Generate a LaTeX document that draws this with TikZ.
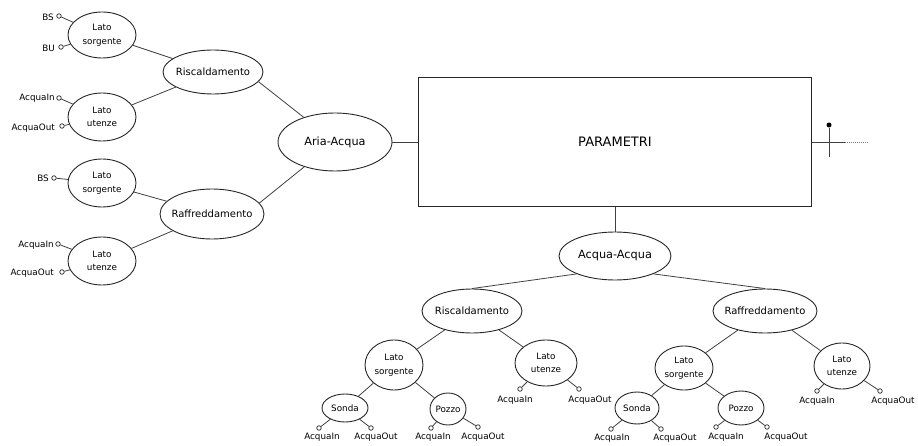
\documentclass[tikz,border=0pt]{standalone}
\usepackage{fontspec}
\setmainfont{DejaVu Sans}
\usetikzlibrary{shapes.geometric,positioning}

\begin{document}
\begin{tikzpicture}[
    x=1pt, y=-1pt,
    ell/.style={ellipse, draw=black!85, line width=0.9pt, inner xsep=-4pt, inner ysep=0pt, align=center},
    lato/.style={ell, font=\fontsize{8.8}{13.5}\selectfont},
    modo/.style={ell, font=\fontsize{10}{13}\selectfont},
    tipo/.style={ell, font=\fontsize{11.3}{14}\selectfont},
    pinc/.style={circle, draw=black!85, line width=0.7pt, inner sep=0pt, minimum size=4.5pt, fill=white},
    lbl/.style={inner sep=1pt, font=\fontsize{8.8}{11}\selectfont},
    link/.style={draw=black!75, line width=0.8pt}
]
    \useasboundingbox (0,0) rectangle (918,446);

    % Aria-Acqua
    \node[lato, minimum width=68pt, minimum height=46pt] (ls1) at (102,35) {Lato\\sorgente};
    \node[lato, minimum width=68pt, minimum height=48pt] (lu1) at (102,117) {Lato\\utenze};
    \node[modo, minimum width=100pt, minimum height=44pt] (risc1) at (213,72) {Riscaldamento};
    \node[lato, minimum width=68pt, minimum height=48pt] (ls2) at (102,183) {Lato\\sorgente};
    \node[lato, minimum width=68pt, minimum height=48pt] (lu2) at (102,261) {Lato\\utenze};
    \node[modo, minimum width=104pt, minimum height=50pt] (raff1) at (212,214) {Raffreddamento};
    \node[tipo, minimum width=114pt, minimum height=58pt] (aria) at (335,142) {Aria-Acqua};

    % Ingressi / uscite a sinistra
    \node[pinc] (bs1) at (59,16) {};
    \node[lbl, anchor=east] (bs1t) at (55,17) {BS};
    \node[pinc] (bu1) at (61,47) {};
    \node[lbl, anchor=east] (bu1t) at (56,48) {BU};
    \node[pinc] (in1) at (59,98) {};
    \node[lbl, anchor=east] (in1t) at (56,98) {AcquaIn};
    \node[pinc] (out1) at (62,126) {};
    \node[lbl, anchor=east] (out1t) at (56,128) {AcquaOut};
    \node[pinc] (bs2) at (54,178) {};
    \node[lbl, anchor=east] (bs2t) at (50,178) {BS};
    \node[pinc] (in2) at (58,244) {};
    \node[lbl, anchor=east] (in2t) at (55,245) {AcquaIn};
    \node[pinc] (out2) at (62,272) {};
    \node[lbl, anchor=east] (out2t) at (55,273) {AcquaOut};

    % Parametri e Acqua-Acqua
    \node[draw=black!85, line width=1pt, minimum width=393pt, minimum height=129pt, font=\fontsize{13}{15}\selectfont] (param) at (615,142) {PARAMETRI};
    \node[tipo, minimum width=112pt, minimum height=48pt] (aa) at (615,256) {Acqua-Acqua};
    \node[modo, minimum width=100pt, minimum height=44pt] (risc2) at (472,311) {Riscaldamento};
    \node[modo, minimum width=104pt, minimum height=44pt] (raff2) at (765,311) {Raffreddamento};
    \node[lato, minimum width=58pt, minimum height=50pt] (ls3) at (394,365) {Lato\\sorgente};
    \node[lato, minimum width=62pt, minimum height=46pt] (lu3) at (546,363) {Lato\\utenze};
    \node[lato, minimum width=58pt, minimum height=44pt] (ls4) at (684,368) {Lato\\sorgente};
    \node[lato, minimum width=56pt, minimum height=46pt] (lu4) at (842,366) {Lato\\utenze};
    \node[lato, minimum width=46pt, minimum height=28pt] (sonda1) at (345,408) {Sonda};
    \node[lato, minimum width=36pt, minimum height=32pt] (pozzo1) at (448,409) {Pozzo};
    \node[lato, minimum width=44pt, minimum height=32pt] (sonda2) at (637,408) {Sonda};
    \node[lato, minimum width=46pt, minimum height=34pt] (pozzo2) at (741,408) {Pozzo};

    % Ingressi / uscite in basso
    \node[pinc] (in3) at (319,428) {};
    \node[lbl] (in3t) at (322,437) {AcquaIn};
    \node[pinc] (out3) at (371,428) {};
    \node[lbl] (out3t) at (376,437) {AcquaOut};
    \node[pinc] (in4) at (431,428) {};
    \node[lbl] (in4t) at (433,437) {AcquaIn};
    \node[pinc] (out4) at (478,427) {};
    \node[lbl] (out4t) at (483,437) {AcquaOut};
    \node[pinc] (in5) at (520,389) {};
    \node[lbl] (in5t) at (515,400) {AcquaIn};
    \node[pinc] (out5) at (579,389) {};
    \node[lbl] (out5t) at (590,400) {AcquaOut};
    \node[pinc] (in6) at (611,429) {};
    \node[lbl] (in6t) at (612,438) {AcquaIn};
    \node[pinc] (out6) at (661,429) {};
    \node[lbl] (out6t) at (675,438) {AcquaOut};
    \node[pinc] (in7) at (716,427) {};
    \node[lbl] (in7t) at (726,437) {AcquaIn};
    \node[pinc] (out7) at (767,427) {};
    \node[lbl] (out7t) at (786,437) {AcquaOut};
    \node[pinc] (in8) at (817,391) {};
    \node[lbl] (in8t) at (817,401) {AcquaIn};
    \node[pinc] (out8) at (880,391) {};
    \node[lbl] (out8t) at (893,401) {AcquaOut};

    % Uscita a destra
    \coordinate (solidend) at (845,142);
    \coordinate (dotend) at (868,142);
    \node[circle, fill=black, inner sep=0pt, minimum size=5pt] (dot) at (829,125) {};
    \coordinate (tickend) at (829,157);

    % Collegamenti
    \draw[link] (ls1) -- (risc1);
    \draw[link] (lu1) -- (risc1);
    \draw[link] (ls2) -- (raff1);
    \draw[link] (lu2) -- (raff1);
    \draw[link] (risc1.-12) -- (aria);
    \draw[link] (raff1.13) -- (aria);
    \draw[link] (aria) -- (param);
    \draw[link] (param) -- (aa);
    \draw[link] (aa.205) -- (risc2.north);
    \draw[link] (aa.335) -- (raff2.north);
    \draw[link] (risc2) -- (ls3);
    \draw[link] (risc2) -- (lu3);
    \draw[link] (raff2) -- (ls4);
    \draw[link] (raff2) -- (lu4);
    \draw[link] (ls3) -- (sonda1);
    \draw[link] (ls3) -- (pozzo1);
    \draw[link] (ls4) -- (sonda2);
    \draw[link] (ls4) -- (pozzo2);

    \draw[link] (bs1) -- (ls1);
    \draw[link] (bu1) -- (ls1);
    \draw[link] (in1) -- (lu1);
    \draw[link] (out1) -- (lu1);
    \draw[link] (bs2) -- (ls2);
    \draw[link] (in2) -- (lu2);
    \draw[link] (out2) -- (lu2);
    \draw[link] (in3) -- (sonda1);
    \draw[link] (out3) -- (sonda1);
    \draw[link] (in4) -- (pozzo1);
    \draw[link] (out4) -- (pozzo1);
    \draw[link] (in5) -- (lu3);
    \draw[link] (out5) -- (lu3);
    \draw[link] (in6) -- (sonda2);
    \draw[link] (out6) -- (sonda2);
    \draw[link] (in7) -- (pozzo2);
    \draw[link] (out7) -- (pozzo2);
    \draw[link] (in8) -- (lu4);
    \draw[link] (out8) -- (lu4);

    \draw[link] (param.east) -- (solidend);
    \draw[link, draw=black!50, dash pattern=on 1pt off 1pt] (solidend) -- (dotend);
    \draw[link] (dot) -- (tickend);
\end{tikzpicture}
\end{document}
